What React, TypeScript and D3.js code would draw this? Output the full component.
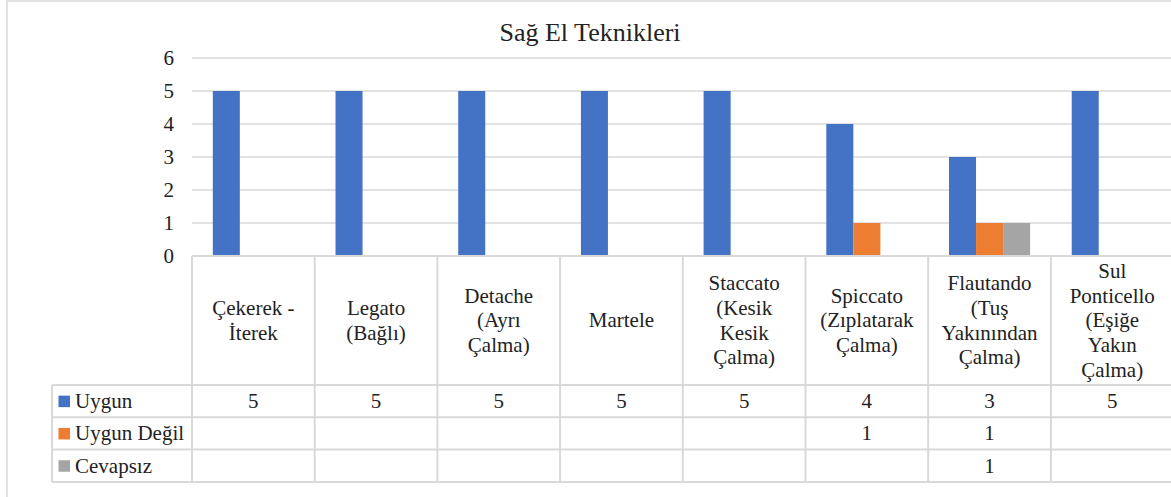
import React from 'react';
import * as d3 from 'd3';

const categories = [
  ['Çekerek -', 'İterek'],
  ['Legato', '(Bağlı)'],
  ['Detache', '(Ayrı', 'Çalma)'],
  ['Martele'],
  ['Staccato', '(Kesik', 'Kesik', 'Çalma)'],
  ['Spiccato', '(Zıplatarak', 'Çalma)'],
  ['Flautando', '(Tuş', 'Yakınından', 'Çalma)'],
  ['Sul', 'Ponticello', '(Eşiğe', 'Yakın', 'Çalma)'],
];
const seriesNames = ['Uygun', 'Uygun Değil', 'Cevapsız'];
const uygun = [5, 5, 5, 5, 5, 4, 3, 5];
const uygunDegil = [null, null, null, null, null, 1, 1, null];
const cevapsiz = [null, null, null, null, null, null, 1, null];
const yTicks = [0, 1, 2, 3, 4, 5, 6];
const colors = ['#4472C4', '#ED7D31', '#A5A5A5'];

const W = 1171;
const H = 497;
const FONT = "'Liberation Serif', 'Times New Roman', serif";
const GRID = '#D9D9D9';
const FS = 21;

export default function App() {
  const series = [uygun, uygunDegil, cevapsiz];
  const keys = categories.map((_, i) => String(i));

  const plotLeft = 192;
  const plotRight = 1173.6;
  const x0 = d3.scaleBand().domain(keys).range([plotLeft, plotRight]).padding(0);
  const bw = x0.bandwidth();
  const x1 = d3.scaleBand().domain(seriesNames).range([0, bw]).paddingInner(0).paddingOuter(0.77);
  const y = d3.scaleLinear().domain([0, 6]).range([256, 58]);

  const headerTop = y(0);
  const headerBottom = 385;
  const rowH = 32.3;
  const rows = seriesNames.map((_, i) => headerBottom + i * rowH);
  const tableBottom = headerBottom + 3 * rowH;
  const legendLeft = 52;
  const lineH = 24.7;
  const txt = { fontFamily: FONT, fontSize: FS };

  return (
    <svg width={W} height={H} style={{ position: 'absolute', left: 0, top: 0, background: '#fff' }}>
      <rect x={7} y={1} width={W + 10} height={H + 10} fill="#fff" stroke={GRID} strokeWidth={1.5} />
      <text x={590} y={32} dy="0.35em" textAnchor="middle" style={{ fontFamily: FONT, fontSize: 26 }} fill="#222">
        Sağ El Teknikleri
      </text>

      {/* gridlines + y ticks */}
      {yTicks.map(t => (
        <g key={t}>
          {t > 0 && (
            <line x1={plotLeft} x2={plotRight} y1={y(t)} y2={y(t)} stroke={GRID} strokeWidth={1.5} />
          )}
          <text x={174} y={y(t)} dy="0.33em" textAnchor="end" style={txt} fill="#222">
            {t}
          </text>
        </g>
      ))}

      {/* bars */}
      {series.map((vals, si) =>
        vals.map((v, ci) =>
          v == null ? null : (
            <rect
              key={`${si}-${ci}`}
              x={(x0(String(ci)) || 0) + (x1(seriesNames[si]) || 0)}
              y={y(v)}
              width={x1.bandwidth()}
              height={y(0) - y(v)}
              fill={colors[si]}
            />
          )
        )
      )}

      {/* data table lines */}
      <line x1={plotLeft} x2={plotRight} y1={headerTop} y2={headerTop} stroke={GRID} strokeWidth={2} />
      {rows.concat([tableBottom]).map((ry, i) => (
        <line key={i} x1={legendLeft} x2={plotRight} y1={ry} y2={ry} stroke={GRID} strokeWidth={2} />
      ))}
      <line x1={legendLeft} x2={legendLeft} y1={headerBottom} y2={tableBottom} stroke={GRID} strokeWidth={2} />
      {keys.concat(['end']).map((k, i) => {
        const xx = k === 'end' ? plotRight : x0(k) || 0;
        return <line key={i} x1={xx} x2={xx} y1={headerTop} y2={tableBottom} stroke={GRID} strokeWidth={2} />;
      })}

      {/* category labels */}
      {categories.map((lines, ci) => {
        const cx = (x0(String(ci)) || 0) + bw / 2;
        const cy = (headerTop + headerBottom) / 2;
        const start = cy - ((lines.length - 1) * lineH) / 2;
        return (
          <text key={ci} textAnchor="middle" style={txt} fill="#222">
            {lines.map((l, li) => (
              <tspan key={li} x={cx} y={start + li * lineH} dy="0.33em">
                {l}
              </tspan>
            ))}
          </text>
        );
      })}

      {/* legend column + values */}
      {seriesNames.map((name, si) => {
        const ry = rows[si] + rowH / 2;
        return (
          <g key={name}>
            <rect x={58.5} y={ry - 5.5} width={11.5} height={11.5} fill={colors[si]} />
            <text x={75} y={ry} dy="0.33em" style={txt} fill="#222">
              {name}
            </text>
            {series[si].map((v, ci) =>
              v == null ? null : (
                <text
                  key={ci}
                  x={(x0(String(ci)) || 0) + bw / 2}
                  y={ry}
                  dy="0.33em"
                  textAnchor="middle"
                  style={txt}
                  fill="#222"
                >
                  {v}
                </text>
              )
            )}
          </g>
        );
      })}
    </svg>
  );
}
